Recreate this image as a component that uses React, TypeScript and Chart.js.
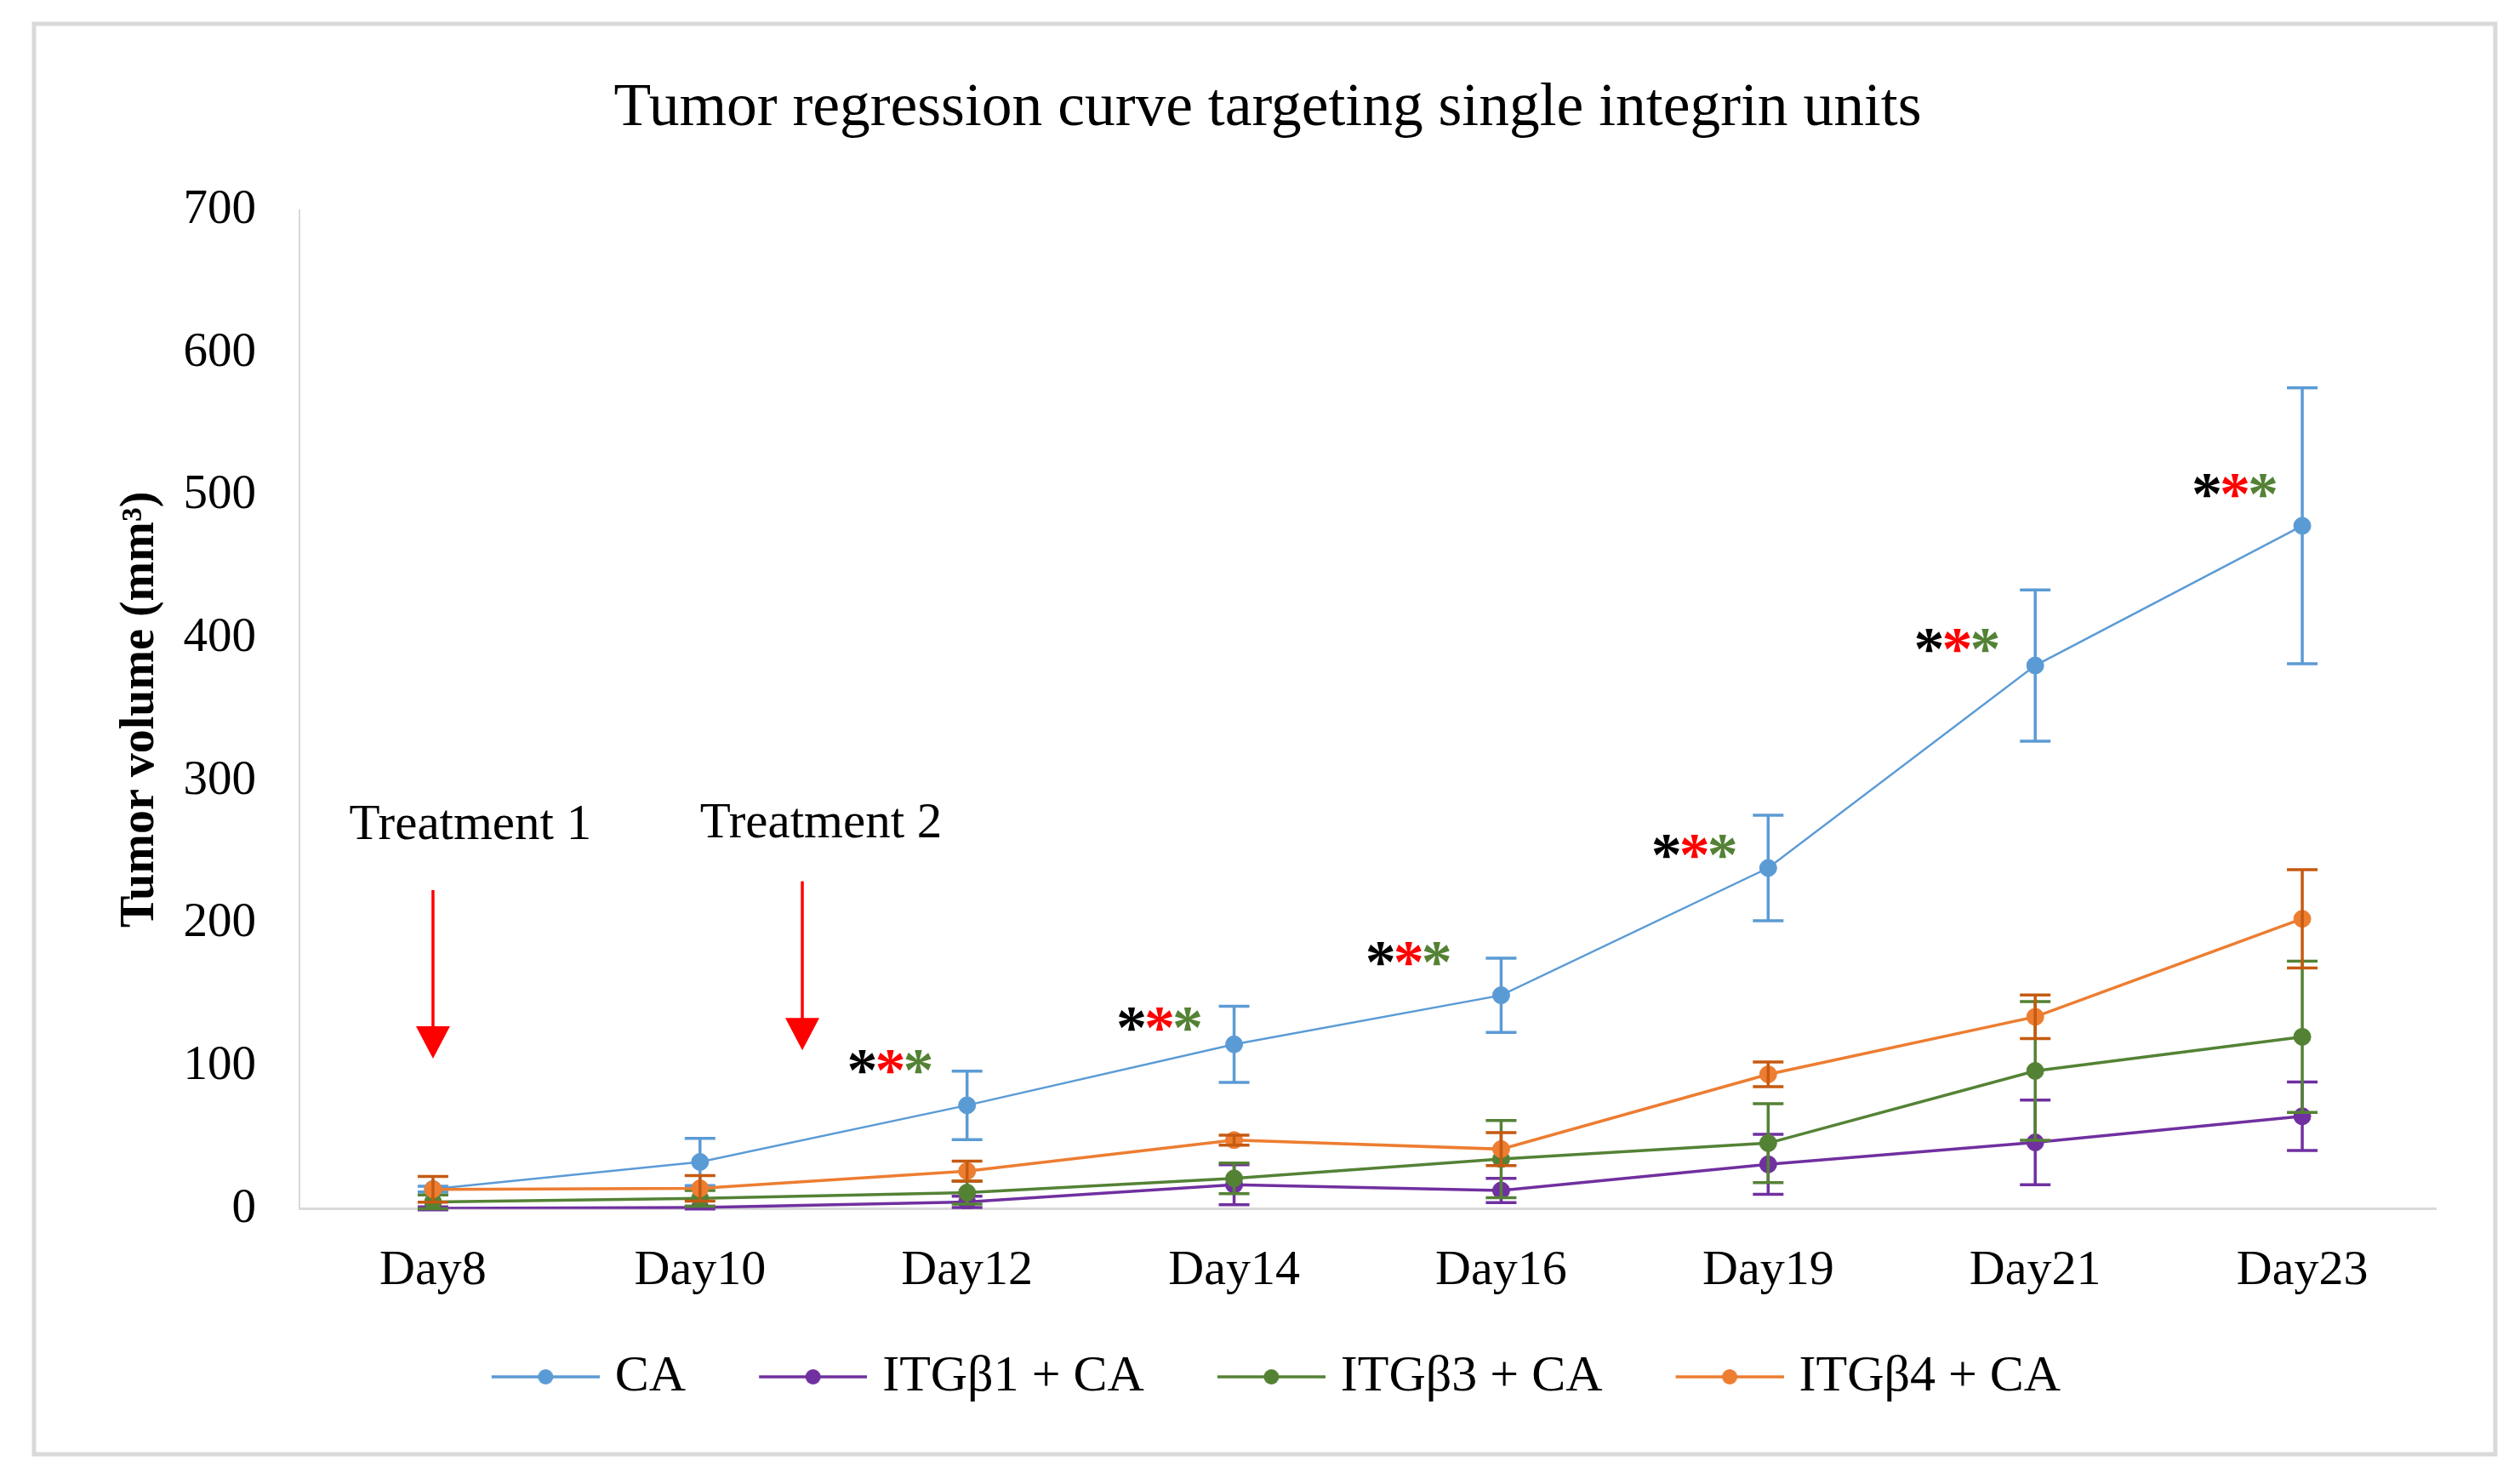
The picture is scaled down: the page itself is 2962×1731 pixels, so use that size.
import React, { useEffect, useRef } from 'react';
import { Chart, registerables } from 'chart.js';

Chart.register(...registerables);

// ---------- data ----------
const categories = ['Day8', 'Day10', 'Day12', 'Day14', 'Day16', 'Day19', 'Day21', 'Day23'];
const seriesNames = ['CA', 'ITGβ1 + CA', 'ITGβ3 + CA', 'ITGβ4 + CA'];

const caValues = [14, 33, 72.7, 115.4, 149.8, 239, 380.9, 478.8];
const caErrors = [2, 16.5, 24, 26.7, 26, 37, 53, 96.7];

const b1Values = [0.5, 1, 5, 17, 13, 31.3, 46.7, 65];
const b1Errors = [1, 1, 4, 14, 8.5, 21, 29.7, 24];

const b3Values = [5, 7.5, 11.5, 21.5, 35, 46.2, 96.8, 120.7];
const b3Errors = [4.8, 5.5, 8, 10.8, 27, 27.7, 48.6, 53];

const b4Values = [13.8, 14.5, 26.6, 48.3, 42, 94.4, 134.7, 203.4];
const b4Errors = [9, 9, 7, 3.5, 11.5, 8.6, 15.3, 34.5];

const yMin = 0;
const yMax = 700;
const yStep = 100;

const chartTitle = 'Tumor regression curve targeting single integrin units';
const yAxisTitle = 'Tumor volume (mm³)';

// significance asterisk groups (x as category index, y in data units)
const starGroupX = [1.713, 2.721, 3.654, 4.724, 5.708, 6.748];
const starGroupY = [103, 133, 179, 254, 398, 507];
const starColors = ['#000000', '#FF0000', '#548235'];

// treatment annotations
const treatmentLabels = ['Treatment 1', 'Treatment 2'];
const treatmentLabelX = [0.14, 1.453];
const treatmentLabelY = [268.4, 269.8];
const arrowX = [0, 1.383];
const arrowTop = [223.5, 229.7];
const arrowTip = [105.4, 111.2];

// ---------- styles ----------
const FONT = "'Liberation Serif', 'Times New Roman', serif";
const lineColors = ['#5B9BD5', '#7030A0', '#548235', '#ED7D31'];
const errColors = ['#5B9BD5', '#7030A0', '#548235', '#C55A11'];
const lineWidths = [2.5, 3.5, 3.5, 3.5];
const allValues = [caValues, b1Values, b3Values, b4Values];
const allErrors = [caErrors, b1Errors, b3Errors, b4Errors];

function makeLegendImage(color: string, lw: number) {
  const c = document.createElement('canvas');
  c.width = 203;
  c.height = 24;
  const g = c.getContext('2d')!;
  g.strokeStyle = color;
  g.lineWidth = lw;
  g.beginPath();
  g.moveTo(76, 12);
  g.lineTo(203, 12);
  g.stroke();
  g.fillStyle = color;
  g.beginPath();
  g.arc(76 + 63.5, 12, 9, 0, Math.PI * 2);
  g.fill();
  return c;
}

const framePlugin = {
  id: 'frame',
  beforeDraw(chart: any) {
    const ctx = chart.ctx;
    ctx.save();
    ctx.fillStyle = '#FFFFFF';
    ctx.fillRect(0, 0, chart.width, chart.height);
    ctx.strokeStyle = '#D9D9D9';
    ctx.lineWidth = 5;
    ctx.strokeRect(40, 28, 2893, 1681);
    ctx.restore();
  },
};

const legendShiftPlugin = {
  id: 'legendShift',
  afterLayout(chart: any) {
    if (chart.legend) {
      chart.legend.left -= 22;
      chart.legend.right -= 22;
    }
  },
};

const errorBarPlugin = {
  id: 'errorBars',
  afterDatasetDraw(chart: any, args: any) {
    const i = args.index;
    const meta = args.meta;
    const ys = chart.scales.y;
    const ctx = chart.ctx;
    const vals = allValues[i];
    const errs = allErrors[i];
    ctx.save();
    ctx.strokeStyle = errColors[i];
    ctx.lineWidth = 3.5;
    meta.data.forEach((pt: any, j: number) => {
      const x = pt.x;
      const yt = ys.getPixelForValue(vals[j] + errs[j]);
      const yb = ys.getPixelForValue(vals[j] - errs[j]);
      ctx.beginPath();
      ctx.moveTo(x, yt);
      ctx.lineTo(x, yb);
      ctx.moveTo(x - 18, yt);
      ctx.lineTo(x + 18, yt);
      ctx.moveTo(x - 18, yb);
      ctx.lineTo(x + 18, yb);
      ctx.stroke();
    });
    ctx.restore();
  },
};

const annotationPlugin = {
  id: 'annotations',
  afterDatasetsDraw(chart: any) {
    const ctx = chart.ctx;
    const xs = chart.scales.x;
    const ys = chart.scales.y;
    ctx.save();
    // asterisks
    ctx.font = `bold 72px ${FONT}`;
    ctx.textAlign = 'center';
    ctx.textBaseline = 'alphabetic';
    const m = ctx.measureText('*');
    const asc = m.actualBoundingBoxAscent;
    const desc = m.actualBoundingBoxDescent;
    starGroupX.forEach((gx, k) => {
      const cx = xs.getPixelForValue(gx);
      const cy = ys.getPixelForValue(starGroupY[k]);
      starColors.forEach((col, s) => {
        ctx.fillStyle = col;
        ctx.fillText('*', cx + (s - 1) * 33, cy + (asc - desc) / 2);
      });
    });
    // treatment labels
    ctx.font = `59px ${FONT}`;
    ctx.fillStyle = '#000000';
    ctx.textBaseline = 'middle';
    treatmentLabels.forEach((t, k) => {
      ctx.fillText(t, xs.getPixelForValue(treatmentLabelX[k]), ys.getPixelForValue(treatmentLabelY[k]));
    });
    // arrows
    ctx.strokeStyle = '#FF0000';
    ctx.fillStyle = '#FF0000';
    ctx.lineWidth = 3.5;
    arrowX.forEach((ax, k) => {
      const x = xs.getPixelForValue(ax);
      const yTop = ys.getPixelForValue(arrowTop[k]);
      const yTip = ys.getPixelForValue(arrowTip[k]);
      const yBase = yTip - 38;
      ctx.beginPath();
      ctx.moveTo(x, yTop);
      ctx.lineTo(x, yBase + 2);
      ctx.stroke();
      ctx.beginPath();
      ctx.moveTo(x - 20, yBase);
      ctx.lineTo(x + 20, yBase);
      ctx.lineTo(x, yTip);
      ctx.closePath();
      ctx.fill();
    });
    ctx.restore();
  },
};

export default function App() {
  const canvasRef = useRef<HTMLCanvasElement | null>(null);

  useEffect(() => {
    const canvas = canvasRef.current;
    if (!canvas) return;
    const legendImages = lineColors.map((c) => makeLegendImage(c, 3.5));
    const orders = [4, 3, 2, 1];

    const chart = new Chart(canvas, {
      type: 'line',
      data: {
        labels: categories,
        datasets: seriesNames.map((name, i) => ({
          label: name,
          data: allValues[i],
          borderColor: lineColors[i],
          backgroundColor: lineColors[i],
          borderWidth: lineWidths[i],
          pointRadius: 10,
          pointBorderWidth: 1,
          pointBackgroundColor: lineColors[i],
          pointBorderColor: lineColors[i],
          pointHoverRadius: 10,
          fill: false,
          tension: 0,
          order: orders[i],
        })),
      },
      options: {
        responsive: false,
        animation: false,
        devicePixelRatio: 1,
        events: [],
        layout: { padding: { left: 117, right: 99, top: 0, bottom: 73 } },
        plugins: {
          title: {
            display: true,
            text: chartTitle,
            color: '#000000',
            font: { family: FONT, size: 71.5, weight: 'normal' },
            padding: { top: 85, bottom: 76.2 },
          },
          legend: {
            position: 'bottom',
            labels: {
              usePointStyle: true,
              pointStyleWidth: 179,
              boxHeight: 22,
              padding: 22,
              color: '#000000',
              font: { family: FONT, size: 60 },
              sort: (a: any, b: any) => a.datasetIndex - b.datasetIndex,
              generateLabels: (ch: any) => {
                const items = (Chart.defaults.plugins.legend.labels as any).generateLabels(ch);
                items.forEach((it: any) => {
                  it.pointStyle = legendImages[it.datasetIndex];
                });
                return items;
              },
            },
          },
          tooltip: { enabled: false },
        },
        scales: {
          x: {
            type: 'category',
            offset: true,
            grid: { display: false, drawTicks: false },
            border: { display: true, color: '#D9D9D9', width: 3 },
            ticks: { color: '#000000', font: { family: FONT, size: 58 }, padding: 37.8 },
          },
          y: {
            min: yMin,
            max: yMax,
            ticks: { stepSize: yStep, color: '#000000', font: { family: FONT, size: 57 }, padding: 51 },
            grid: { display: false, drawTicks: false },
            border: { display: true, color: '#D9D9D9', width: 2 },
            title: {
              display: true,
              text: yAxisTitle,
              color: '#000000',
              font: { family: FONT, size: 56, weight: 'bold' },
              padding: { top: 15.4, bottom: 0 },
            },
            afterFit: (s: any) => {
              s.width = 235;
            },
          },
        },
      } as any,
      plugins: [framePlugin, legendShiftPlugin, errorBarPlugin, annotationPlugin],
    });
    return () => chart.destroy();
  }, []);

  return (
    <div style={{ position: 'absolute', left: 0, top: 0, width: '2962px', height: '1731px', background: '#fff' }}>
      <canvas ref={canvasRef} width={2962} height={1731} style={{ display: 'block' }} />
    </div>
  );
}
